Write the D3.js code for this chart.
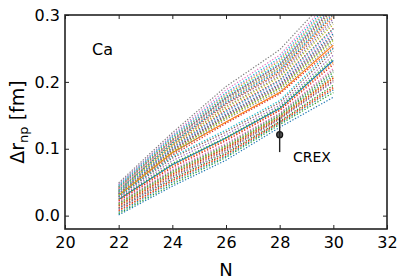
<!DOCTYPE html>
<html>
<head>
<meta charset="utf-8">
<script src="https://cdn.jsdelivr.net/npm/d3@7"></script>
<style>
  body { margin: 0; background: #fff; }
  text { font-family: "DejaVu Sans", sans-serif; fill: #000; }
</style>
</head>
<body>
<div id="chart"></div>
<script>
// neutron numbers of the Ca isotopes
const neutrons = [22, 24, 26, 28, 30];
const xTicks = [20, 22, 24, 26, 28, 30, 32];
const yTicks = [0.0, 0.1, 0.2, 0.3];

// CREX measurement for 48Ca
const crexN = 28;
const crexValue = 0.121;
const crexError = 0.026;

// Δr_np of each model at N = 22, 24, 26, 28, 30
const modelRnp = [
  [0.033, 0.099, 0.152, 0.197, 0.272],
  [0.039, 0.106, 0.166, 0.214, 0.297],
  [0.032, 0.095, 0.147, 0.191, 0.264],
  [0.035, 0.102, 0.158, 0.203, 0.280],
  [0.043, 0.114, 0.176, 0.226, 0.313],
  [0.041, 0.112, 0.176, 0.225, 0.311],
  [0.047, 0.121, 0.188, 0.240, 0.328],
  [0.049, 0.124, 0.193, 0.248, 0.334],
  [0.043, 0.115, 0.180, 0.231, 0.318],
  [0.046, 0.119, 0.184, 0.236, 0.324],

  [0.024, 0.076, 0.116, 0.160, 0.232],
  [0.030, 0.094, 0.140, 0.184, 0.255],
  [0.025, 0.078, 0.117, 0.162, 0.235],
  [0.028, 0.090, 0.138, 0.182, 0.251],
  [0.038, 0.107, 0.167, 0.212, 0.294],
  [0.037, 0.109, 0.168, 0.216, 0.300],
  [0.045, 0.118, 0.182, 0.233, 0.321],
  [0.042, 0.113, 0.174, 0.222, 0.309],
  [0.040, 0.110, 0.172, 0.221, 0.306],
  [0.044, 0.117, 0.178, 0.228, 0.316],

  [0.016, 0.064, 0.102, 0.149, 0.210],
  [0.023, 0.074, 0.114, 0.158, 0.229],
  [0.018, 0.066, 0.104, 0.150, 0.214],
  [0.022, 0.072, 0.112, 0.157, 0.226],
  [0.032, 0.097, 0.149, 0.193, 0.266],
  [0.033, 0.098, 0.150, 0.195, 0.269],
  [0.040, 0.111, 0.171, 0.219, 0.304],
  [0.036, 0.104, 0.163, 0.209, 0.290],
  [0.036, 0.105, 0.161, 0.207, 0.286],
  [0.038, 0.108, 0.170, 0.218, 0.302],

  [0.005, 0.050, 0.089, 0.138, 0.188],
  [0.014, 0.061, 0.100, 0.146, 0.205],
  [0.011, 0.055, 0.094, 0.141, 0.195],
  [0.015, 0.062, 0.101, 0.147, 0.206],
  [0.026, 0.082, 0.121, 0.165, 0.240],
  [0.028, 0.086, 0.125, 0.169, 0.246],
  [0.034, 0.100, 0.155, 0.200, 0.276],
  [0.030, 0.092, 0.144, 0.187, 0.258],
  [0.031, 0.096, 0.146, 0.190, 0.262],
  [0.035, 0.101, 0.156, 0.202, 0.279],

  [0.001, 0.044, 0.083, 0.132, 0.177],
  [0.007, 0.052, 0.091, 0.139, 0.190],
  [0.003, 0.047, 0.087, 0.136, 0.184],
  [0.008, 0.053, 0.092, 0.140, 0.192],
  [0.010, 0.057, 0.096, 0.144, 0.200],
  [0.012, 0.059, 0.098, 0.145, 0.202],
  [0.020, 0.069, 0.108, 0.153, 0.220],
  [0.019, 0.067, 0.106, 0.152, 0.217],
  [0.017, 0.064, 0.103, 0.148, 0.208],
  [0.029, 0.088, 0.128, 0.172, 0.250],
];
// models drawn with a solid line instead of dots
const solidModels = [10, 11];

const margin = { top: 15, right: 15, bottom: 51, left: 65 };
const width = 402 - margin.left - margin.right;
const height = 280 - margin.top - margin.bottom;

const svg = d3.select('#chart')
  .append('svg')
  .attr('width', 402)
  .attr('height', 280);

const g = svg.append('g')
  .attr('transform', `translate(${margin.left},${margin.top})`);

const x = d3.scaleLinear().domain([20, 32]).range([0, width]);
const y = d3.scaleLinear().domain([-0.02, 0.3]).range([height, 0]);
const color = d3.scaleOrdinal(d3.schemeCategory10);

g.append('clipPath').attr('id', 'plot-clip')
  .append('rect').attr('width', width).attr('height', height);

// model curves
const line = d3.line()
  .x((d, i) => x(neutrons[i]))
  .y((d) => y(d));

g.append('g')
  .attr('clip-path', 'url(#plot-clip)')
  .selectAll('path')
  .data(modelRnp)
  .enter()
  .append('path')
  .attr('d', line)
  .attr('fill', 'none')
  .attr('stroke', (d, i) => color(i % 10))
  .attr('stroke-width', 1.2)
  .attr('stroke-dasharray', (d, i) => (solidModels.includes(i) ? null : '1.3,1.7'));

// CREX point with error bar
g.append('circle')
  .attr('cx', x(crexN))
  .attr('cy', y(crexValue))
  .attr('r', 3)
  .attr('fill', '#555')
  .attr('stroke', '#111')
  .attr('stroke-width', 1.2);
g.append('line')
  .attr('x1', x(crexN)).attr('x2', x(crexN))
  .attr('y1', y(crexValue - crexError))
  .attr('y2', y(crexValue + crexError))
  .attr('stroke', '#222')
  .attr('stroke-width', 1.4);

// axes, ticks pointing inwards on all four sides
const fmt = d3.format('.1f');
const axes = [
  { axis: d3.axisBottom(x).tickValues(xTicks).tickSize(-4).tickPadding(8), t: `translate(0,${height})` },
  { axis: d3.axisTop(x).tickValues(xTicks).tickSize(-4).tickFormat(''), t: 'translate(0,0)' },
  { axis: d3.axisLeft(y).tickValues(yTicks).tickSize(-4).tickPadding(5).tickFormat(fmt), t: 'translate(0,0)' },
  { axis: d3.axisRight(y).tickValues(yTicks).tickSize(-4).tickFormat(''), t: `translate(${width},0)` },
];
axes.forEach((a) => {
  const ag = g.append('g').attr('transform', a.t).call(a.axis);
  ag.select('.domain').remove();
  ag.selectAll('line').attr('stroke', '#222').attr('stroke-width', 1);
  ag.selectAll('text').style('font-family', '"DejaVu Sans", sans-serif').style('font-size', '16px').attr('fill', '#000');
});

g.append('rect')
  .attr('width', width)
  .attr('height', height)
  .attr('fill', 'none')
  .attr('stroke', '#222')
  .attr('stroke-width', 1.6);

// labels
g.append('text')
  .attr('x', 27).attr('y', 40)
  .style('font-size', '16px')
  .text('Ca');

g.append('text')
  .attr('x', 228).attr('y', 147)
  .style('font-size', '14px')
  .text('CREX');

g.append('text')
  .attr('x', width / 2).attr('y', height + 47)
  .attr('text-anchor', 'middle')
  .style('font-size', '18px')
  .text('N');

const yl = svg.append('text')
  .attr('transform', `translate(24,${margin.top + height / 2}) rotate(-90)`)
  .attr('text-anchor', 'middle')
  .style('font-size', '19px');
yl.append('tspan').text('Δr');
yl.append('tspan').attr('dy', 4).style('font-size', '13px').text('np');
yl.append('tspan').attr('dy', -4).text(' [fm]');
</script>
</body>
</html>
